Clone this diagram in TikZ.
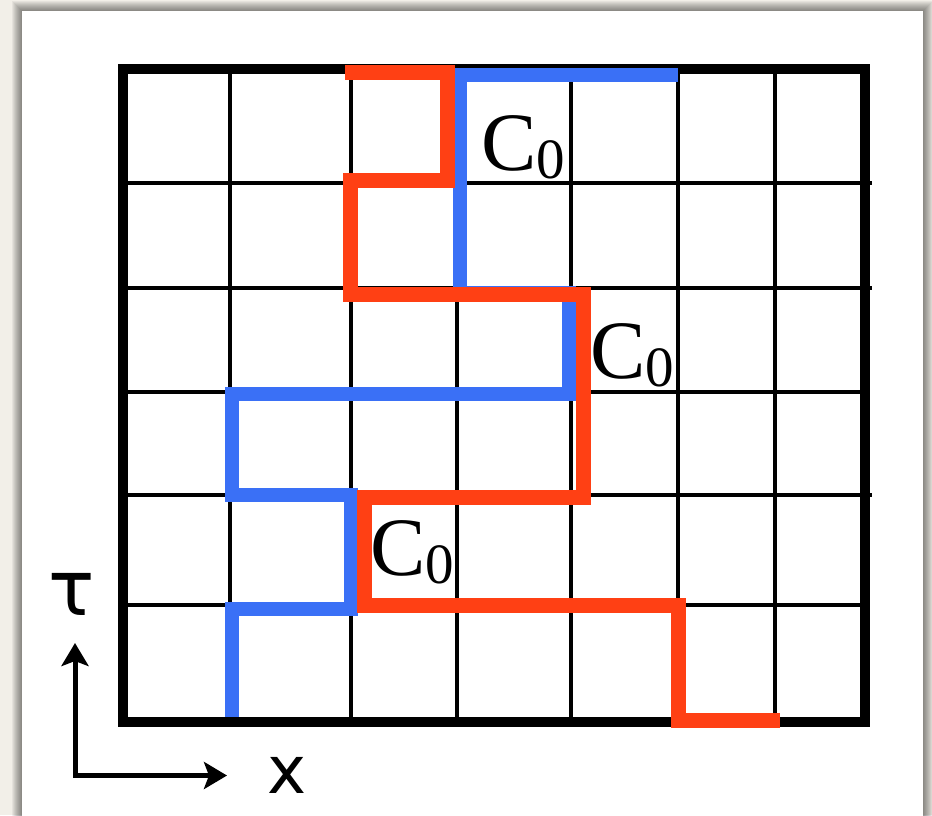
\documentclass[tikz,border=0pt]{standalone}
\usepackage{fontspec}
\setmainfont{Liberation Serif}
\newfontfamily\axfont{DejaVu Sans}
\usetikzlibrary{arrows.meta}
\definecolor{bgc}{RGB}{242,239,232}
\definecolor{redp}{RGB}{255,64,20}
\definecolor{bluep}{RGB}{58,112,246}
\newcommand\lowsub[1]{\raisebox{-4pt}{\fontsize{28.5pt}{28.5pt}\selectfont #1}}
\begin{document}
\begin{tikzpicture}[x=0.5pt,y=-0.5pt,
  gridline/.style={line width=2pt},
  framebox/.style={line width=5pt},
  pathred/.style={draw=redp,line width=7.5pt,line join=miter},
  pathblue/.style={draw=bluep,line width=7pt,line join=miter},
  clabel/.style={inner sep=0pt,anchor=base west,font=\fontsize{41.5pt}{41.5pt}\selectfont},
  taulabel/.style={inner sep=0pt,anchor=base,font=\axfont\fontsize{38.5pt}{38.5pt}\selectfont},
  xlabel/.style={inner sep=0pt,anchor=base,font=\axfont\fontsize{33pt}{33pt}\selectfont},
  axisarrow/.style={line width=2.5pt,line join=miter,
    {Stealth[length=11.5pt,width=13.5pt,inset=2.5pt]}-{Stealth[length=11.5pt,width=13.5pt,inset=2.5pt]}}
]
% background and card
\fill[bgc] (0,0) rectangle (932,815);
\useasboundingbox (0,0) rectangle (932,815);
\foreach \i in {1,...,10}
  \fill[black,opacity=0.05] (22-\i,11-\i) rectangle (923+\i,830);
\fill[white] (22,11) rectangle (923,830);

% grid
\foreach \x in {230,351,457,571,678,775}
  \draw[gridline] (\x,69) -- (\x,722);
\foreach \y in {183,288,495}
  \draw[gridline] (123,\y) -- (872,\y);
\foreach \y in {392,605}
  \draw[gridline] (123,\y) -- (865,\y);
\draw[framebox] (123,69) rectangle (865,722);

% paths
\draw[pathblue] (232,717) -- (232,609) -- (351,609) -- (351,495) -- (232,495)
  -- (232,394) -- (569,394) -- (569,293) -- (460,293) -- (460,75) -- (678,75);
\draw[pathred] (345,72) -- (447,72) -- (447,180) -- (350,180) -- (350,294)
  -- (583,294) -- (583,497) -- (364,497) -- (364,605) -- (678,605) -- (678,720) -- (780,720);

% labels
\node[clabel] (c1) at (481,170) {C\lowsub{0}};
\node[clabel] (c2) at (590,378) {C\lowsub{0}};
\node[clabel] (c3) at (370,575) {C\lowsub{0}};

% axes
\coordinate (o) at (75,775.5);
\coordinate (ty) at (75,643);
\coordinate (tx) at (227,775.5);
\draw[axisarrow] (ty) -- (o) -- (tx);
\node[taulabel] (tau) at (72,615) {τ};
\node[xlabel] (xl) at (287,793) {x};
\end{tikzpicture}
\end{document}
